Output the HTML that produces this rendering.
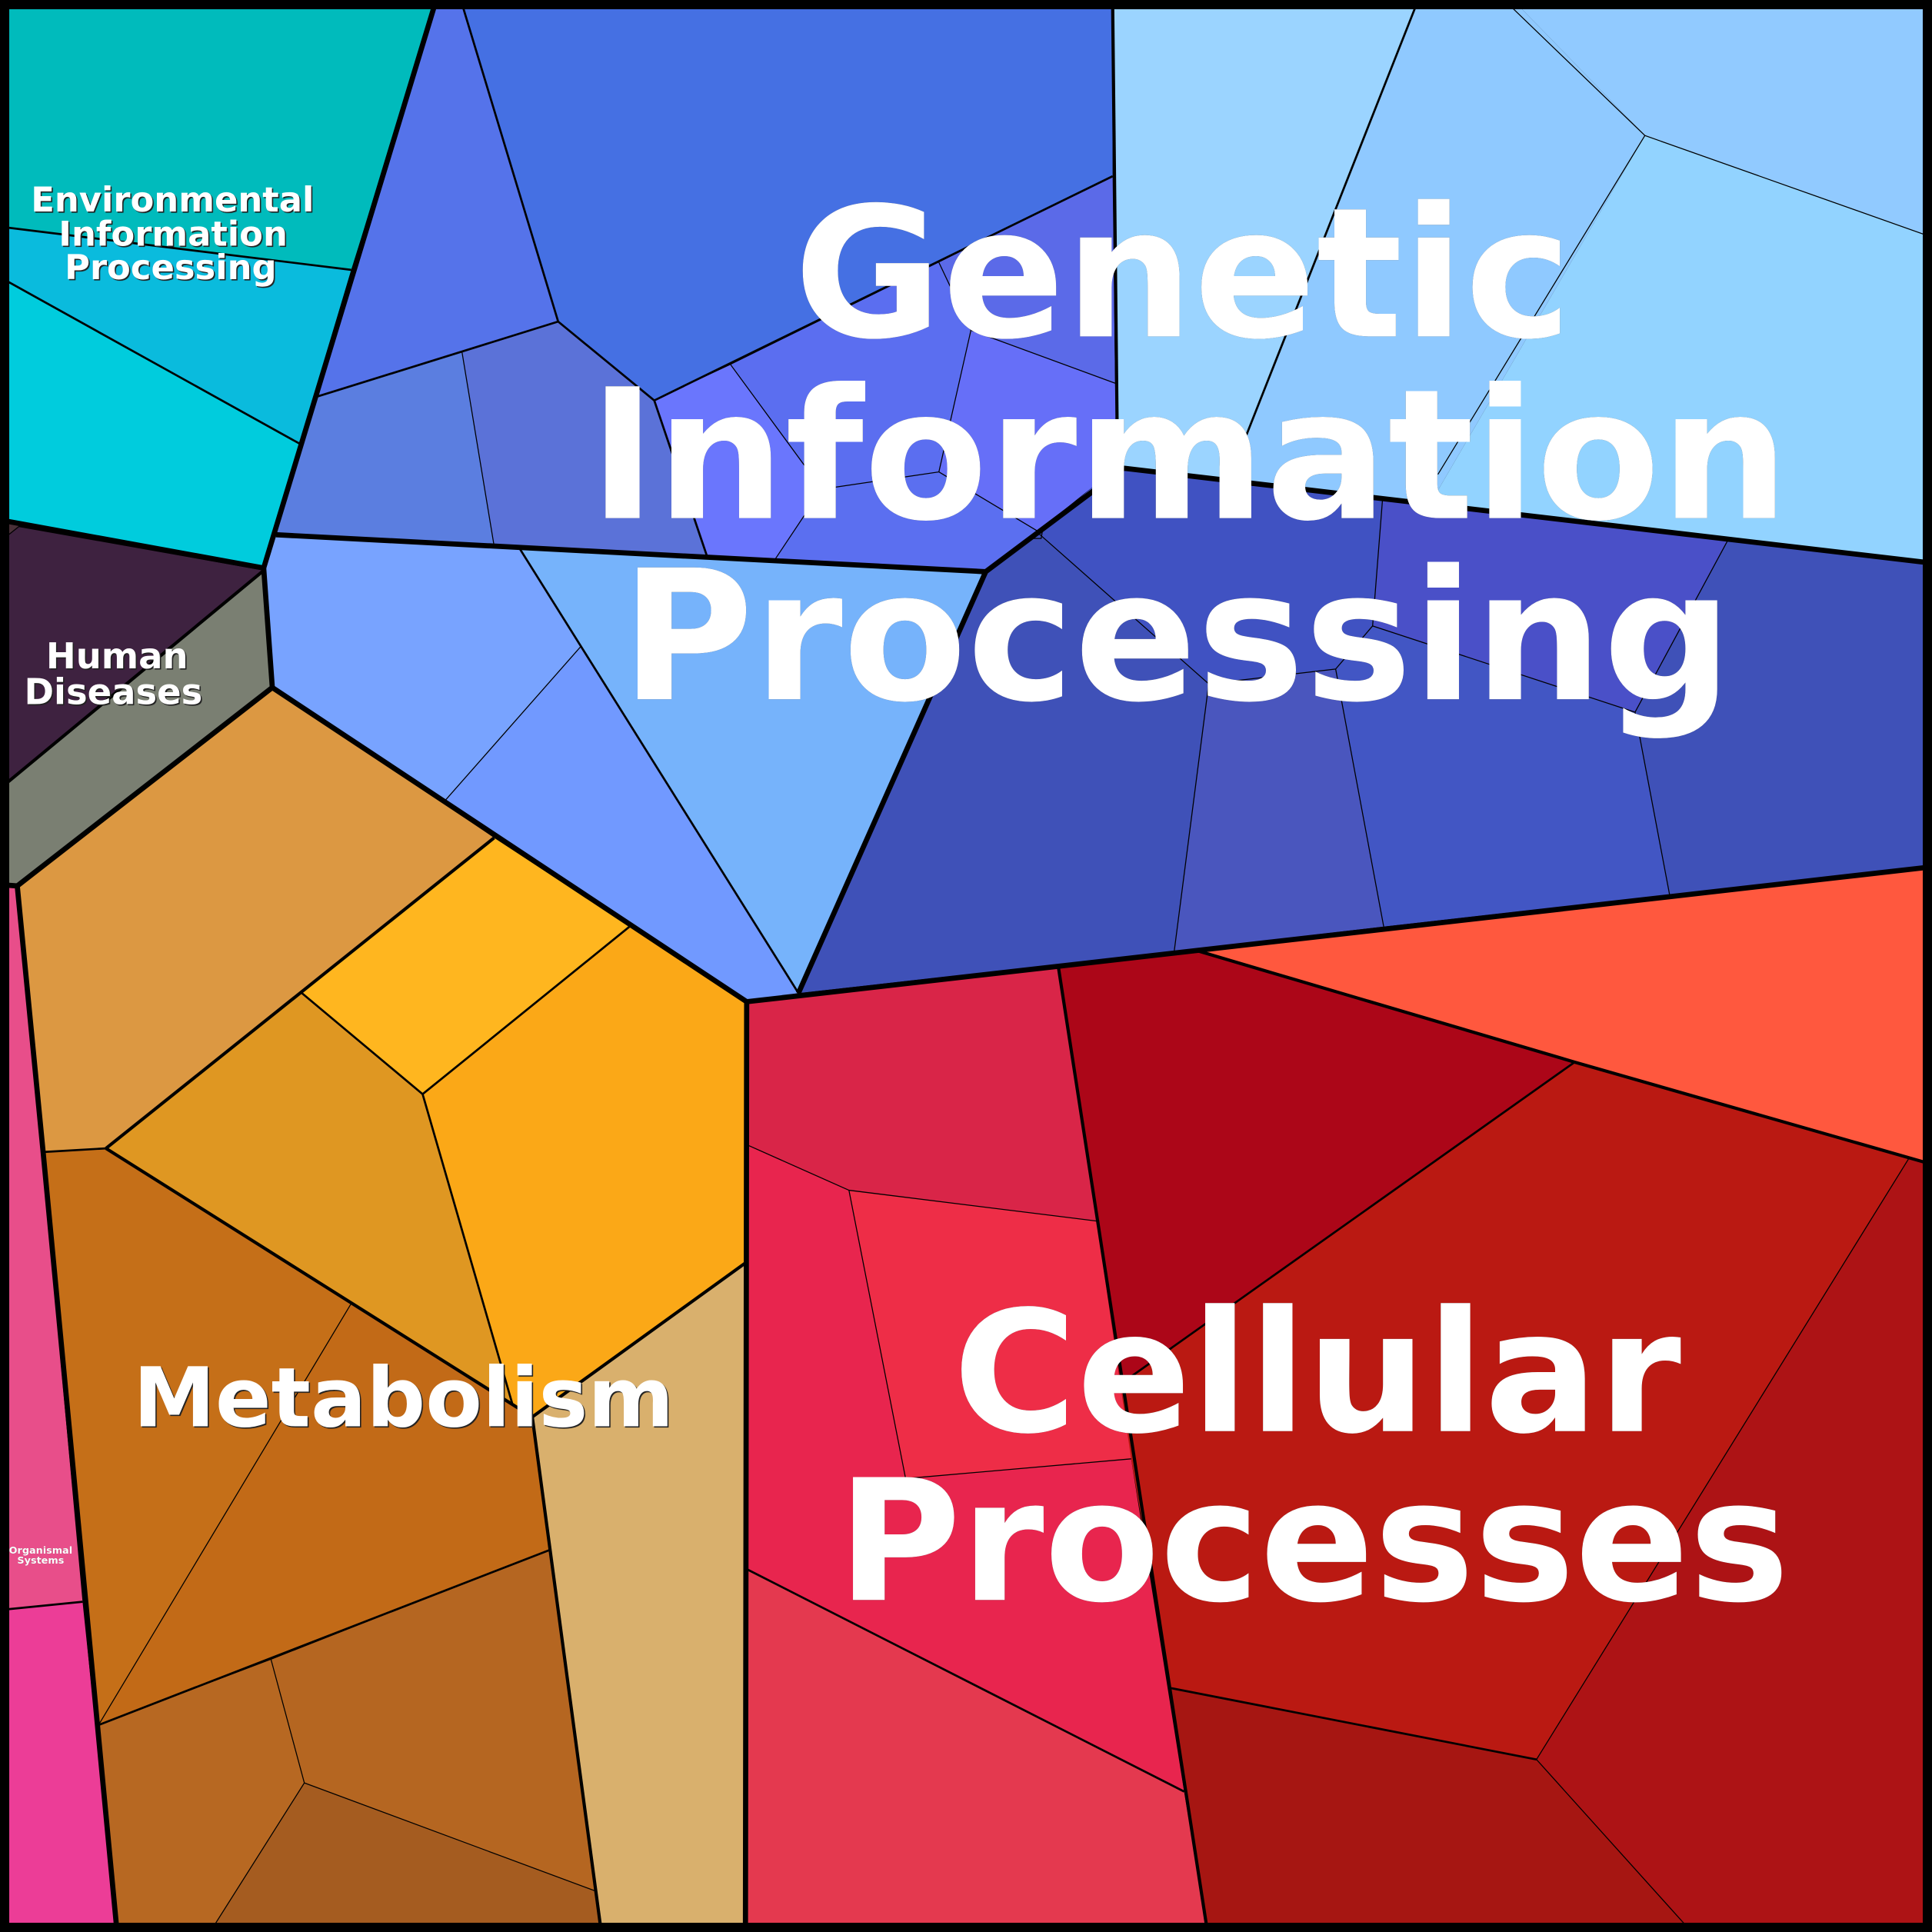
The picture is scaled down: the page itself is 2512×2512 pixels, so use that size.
<!DOCTYPE html>
<html><head><meta charset="utf-8"><style>
html,body{margin:0;padding:0;background:#000}
svg{display:block;width:2512px;height:2512px}
text{font-family:"DejaVu Sans",sans-serif;font-weight:700;fill:#fff;text-anchor:middle}
.b{filter:drop-shadow(.6px .6px 0 #222)}
.s{filter:drop-shadow(1.1px 1.1px 0 #222)}
</style></head><body>
<svg xmlns="http://www.w3.org/2000/svg" width="2512" height="2512" viewBox="0 0 1568 1568">
<g stroke="none">
<polygon fill="#00BBBC" points="0,0 354,0 285,219 0,184"/>
<polygon fill="#0ABBDD" points="0,184 285,219 243,360 0,225"/>
<polygon fill="#00CCDD" points="0,225 243,360 214,461 0,422"/>
<polygon fill="#5573EA" points="354,0 374,0 453,261 257,322"/>
<polygon fill="#5B7EE0" points="257,322 375,286 401,443 224,434"/>
<polygon fill="#5B72D8" points="375,286 453,261 531,325 574,452 401,443"/>
<polygon fill="#4570E3" points="374,0 903,0 903,143 531,325 453,261"/>
<polygon fill="#6A76FD" points="531,325 593,296 667,397 629,454 574,452"/>
<polygon fill="#5B6EF0" points="593,296 762,213 788,268 762,383 667,397"/>
<polygon fill="#5B6AE8" points="762,213 903,143 905,311 788,268"/>
<polygon fill="#666FF8" points="788,268 905,311 907,380 887,395 842,431 762,383"/>
<polygon fill="#5B6FF0" points="667,397 762,383 842,431 800,464 629,454"/>
<polygon fill="#78A3FF" points="224,434 421,444 472,524 361,650 221,558 214,461"/>
<polygon fill="#7199FF" points="472,524 648,806 606,813 361,650"/>
<polygon fill="#76B3FB" points="421,444 800,464 648,806"/>
<polygon fill="#9BD4FF" points="903,0 1151,0 997,390 907,380"/>
<polygon fill="#8FC9FF" points="1151,0 1228,0 1335,110 1160,410 997,390"/>
<polygon fill="#91CAFF" points="1228,0 1568,0 1568,192.5 1335,110"/>
<polygon fill="#92D3FF" points="1335,110 1568,192.5 1568,457 1160,410"/>
<polygon fill="#3F51B8" points="843,433 981,555 953,772 648,806 800,464"/>
<polygon fill="#4052C2" points="843,433 887,395 912,380 1122,406 1114,508 1084,543 981,555"/>
<polygon fill="#4A50C8" points="1122,406 1402,439 1327,578 1114,508"/>
<polygon fill="#4256C4" points="1114,508 1327,578 1355,726 1123,752 1084,543"/>
<polygon fill="#4A56BE" points="981,555 1084,543 1123,752 953,772"/>
<polygon fill="#3F51B8" points="1402,439 1568,457 1568,703.5 1355,726 1327,578"/>
<polygon fill="#FF583E" points="973,772 1568,703.5 1568,945 1278,862"/>
<polygon fill="#AC0618" points="859,785 973,772 1278,862 907,1125 890,991"/>
<polygon fill="#BA1912" points="1278,862 1549,940.5 1247,1428 950,1370 918,1184 907,1125"/>
<polygon fill="#AD1315" points="1549,940.5 1568,945 1568,1568 1373,1568 1247,1428"/>
<polygon fill="#A61612" points="950,1370 1247,1428 1373,1568 980,1568"/>
<polygon fill="#D92548" points="606,814 859,785 890,991 689,966 606,929"/>
<polygon fill="#EE2D47" points="689,966 890,991 918,1184 735,1200"/>
<polygon fill="#E8254E" points="606,929 689,966 735,1200 918,1184 961,1454 607,1274"/>
<polygon fill="#E4394F" points="607,1274 961,1454 980,1568 605,1568"/>
<polygon fill="#DC9842" points="14,719 221,558 401,680 86,932 35,935"/>
<polygon fill="#FFB61F" points="245,806 401,680 511,752 343,888"/>
<polygon fill="#FBA817" points="511,752 606,813 605,1025 432,1150 416,1140 343,888"/>
<polygon fill="#DF9722" points="86,932 245,806 343,888 416,1140"/>
<polygon fill="#C56F18" points="35,935 86,932 285,1058 80,1400"/>
<polygon fill="#C26A17" points="285,1058 416,1140 432,1150 446,1258 80,1400"/>
<polygon fill="#B76822" points="80,1400 220,1347 247,1447 170.5,1568 95,1568"/>
<polygon fill="#B56621" points="220,1347 446,1258 484,1535 247,1447"/>
<polygon fill="#A55C20" points="247,1447 484,1535 488,1568 170.5,1568"/>
<polygon fill="#D9B06D" points="432,1150 605,1025 605,1568 488,1568"/>
<polygon fill="#3E2240" points="0,425 214,463 0,640"/>
<polygon fill="#4A3038" points="0,424 17,426 0,440"/>
<polygon fill="#7A7F72" points="0,640 214,463 221,558 14,719 0,718"/>
<polygon fill="#E84E8A" points="0,720 14,720 67,1300 0,1307"/>
<polygon fill="#EC3D97" points="0,1307 67,1300 95,1568 0,1568"/>
</g>
<g fill="none" stroke="#000" stroke-width=".8" stroke-linejoin="miter">
<path d="M375,286 L401,443"/>
<path d="M593,296 L667,397 L629,454 M667,397 L762,383 L788,268 L762,213 M788,268 L905,311 M762,383 L842,431"/>
<path d="M472,524 L361,650"/>
<path d="M1228,7 L1335,110 L1568,192.5 M1335,110 L1167,385"/>
<path d="M843,433 L981,555 L953,772 M981,555 L1084,543 L1114,508 L1122,406 M1084,543 L1123,752 M1114,508 L1327,578 L1355,726 M1402,439 L1327,578"/>
<path d="M838,437 L845,437 L846,431"/>
<path d="M606,929 L689,966 L735,1200 M1247,1428 L1373,1568"/>
<path d="M285,1058 L80,1400"/>
<path d="M220,1347 L247,1447 L170.5,1568 M247,1447 L484,1535"/>
<path d="M1549,940.5 L1247,1428"/>
<path d="M689,966 L890,991"/>
<path d="M735,1200 L918,1184"/>
<path d="M7,434 L17,426"/>
</g>
<g fill="none" stroke="#000" stroke-width="1.7" stroke-linejoin="miter">
<path d="M0,184 L285,219 M0,225 L243,360"/>
<path d="M257,322 L453,261 L531,325 L574,452 M374,0 L453,261 M531,325 L903,143"/>
<path d="M1151,0 L997,390"/>
<path d="M421,444 L648,806"/>
<path d="M245,806 L343,888 L416,1140 M343,888 L511,752"/>
<path d="M35,935 L86,932"/>
<path d="M80,1400 L446,1258"/>
<path d="M7,1306 L67,1300"/>
<path d="M607,1274 L961,1454"/>
<path d="M1278,862 L907,1125 M950,1370 L1247,1428"/>
</g>
<g fill="none" stroke="#000" stroke-width="2.6" stroke-linejoin="miter">
<path d="M903,0 L907,380"/>
<path d="M859,785 L980,1568"/>
<path d="M86,932 L401,680"/>
<path d="M86,932 L432,1150"/>
<path d="M432,1150 L605,1025"/>
<path d="M432,1150 L488,1568"/>
<path d="M0,640 L214,463"/>
<path d="M973,772 L1278,862 L1568,945"/>
</g>
<g fill="none" stroke="#000" stroke-width="4.2" stroke-linejoin="miter">
<path d="M354,0 L214,461 L0,422"/>
<path d="M214,461 L221,558 L14,719 L0,718"/>
<path d="M14,719 L35,935 L95,1568"/>
<path d="M221,558 L606,813 L605,1568"/>
<path d="M606,813 L1568,703.5"/>
<path d="M648,806 L800,464 L224,434"/>
<path d="M800,464 L912,380 L1568,457"/>
</g>
<rect x="3.75" y="3.75" width="1560.5" height="1560.5" fill="none" stroke="#000" stroke-width="7.5"/>
<g class="b" font-size="146.8">
<text x="960" y="273">Genetic</text>
<text x="965" y="420.5">Information</text>
<text x="955" y="567.5">Processing</text>
</g>
<g class="b" font-size="136.8">
<text x="1069" y="1161.5">Cellular</text>
<text x="1066" y="1298.5">Processes</text>
</g>
<g class="s" font-size="67"><text x="327.5" y="1157.5">Metabolism</text></g>
<g class="s" font-size="28">
<text x="140" y="171.5">Environmental</text>
<text x="140.5" y="199.5">Information</text>
<text x="138.5" y="226.5">Processing</text>
</g>
<g class="s" font-size="29">
<text x="95" y="542.5">Human</text>
<text x="92" y="571.5">Diseases</text>
</g>
<g style="filter:drop-shadow(.4px .4px 0 #222)" font-size="8">
<text x="33" y="1261">Organismal</text>
<text x="33" y="1269">Systems</text>
</g>
</svg>
</body></html>
